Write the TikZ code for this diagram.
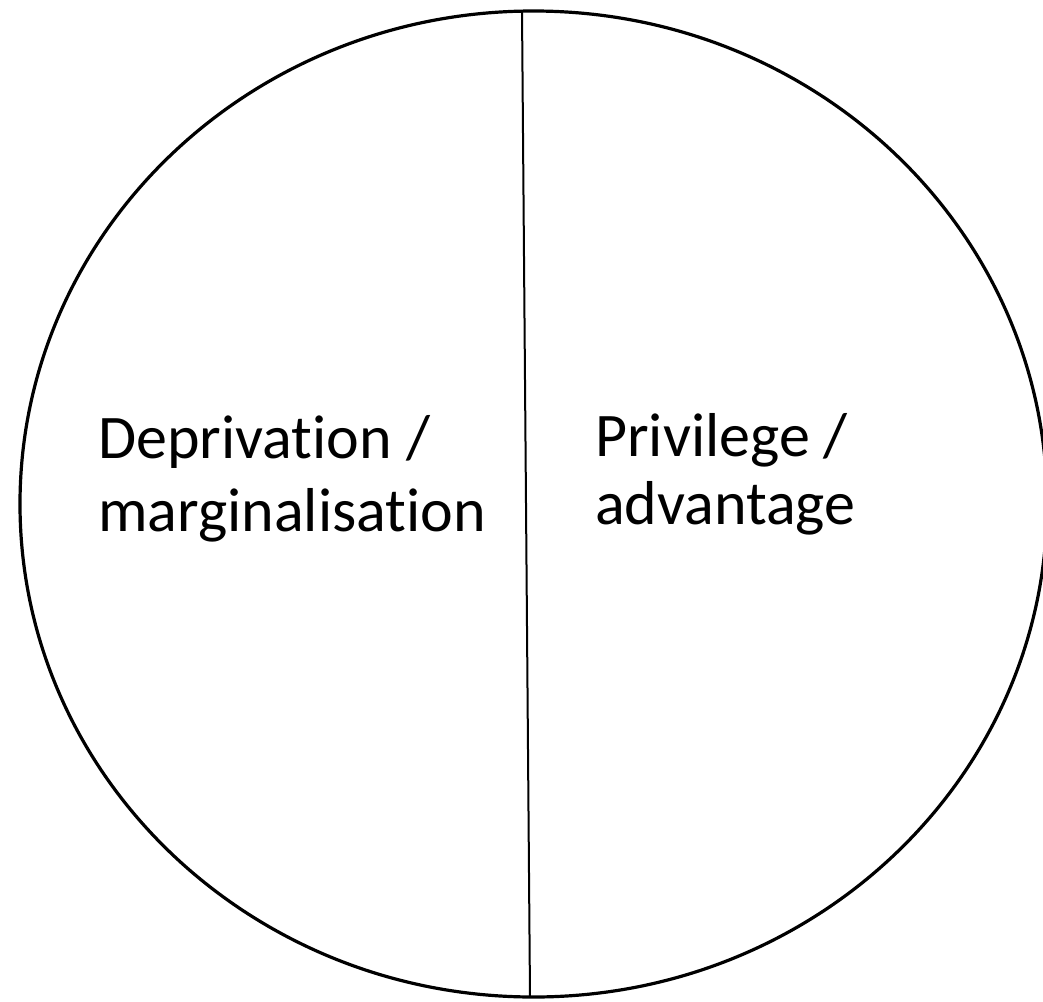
\documentclass[tikz,border=0pt]{standalone}
\usepackage{fontspec}
\setmainfont[Ligatures=NoCommon]{Carlito}
\usetikzlibrary{shapes.geometric}
\begin{document}
\begin{tikzpicture}[x=1pt,y=-1pt,
  outline/.style={draw=black,line width=3.2pt},
  divider/.style={draw=black,line width=2pt},
  lbl/.style={anchor=base west,inner sep=0pt,font=\fontsize{62}{73}\selectfont}]
\useasboundingbox (0,0) rectangle (1043,1001);
\node[outline,ellipse,minimum width=1027pt,minimum height=986pt,inner sep=0pt] (circ) at (533.5,504) {};
\coordinate (top) at (522,11);
\coordinate (bot) at (530,997);
\draw[divider] (top) -- (bot);
\node[lbl] (l1) at (98,458) {Deprivation /};
\node[lbl] (l2) at (98,531) {marginalisation};
\node[lbl] (r1) at (595,456) {Privilege /};
\node[lbl] (r2) at (595,524) {advantage};
\end{tikzpicture}
\end{document}
